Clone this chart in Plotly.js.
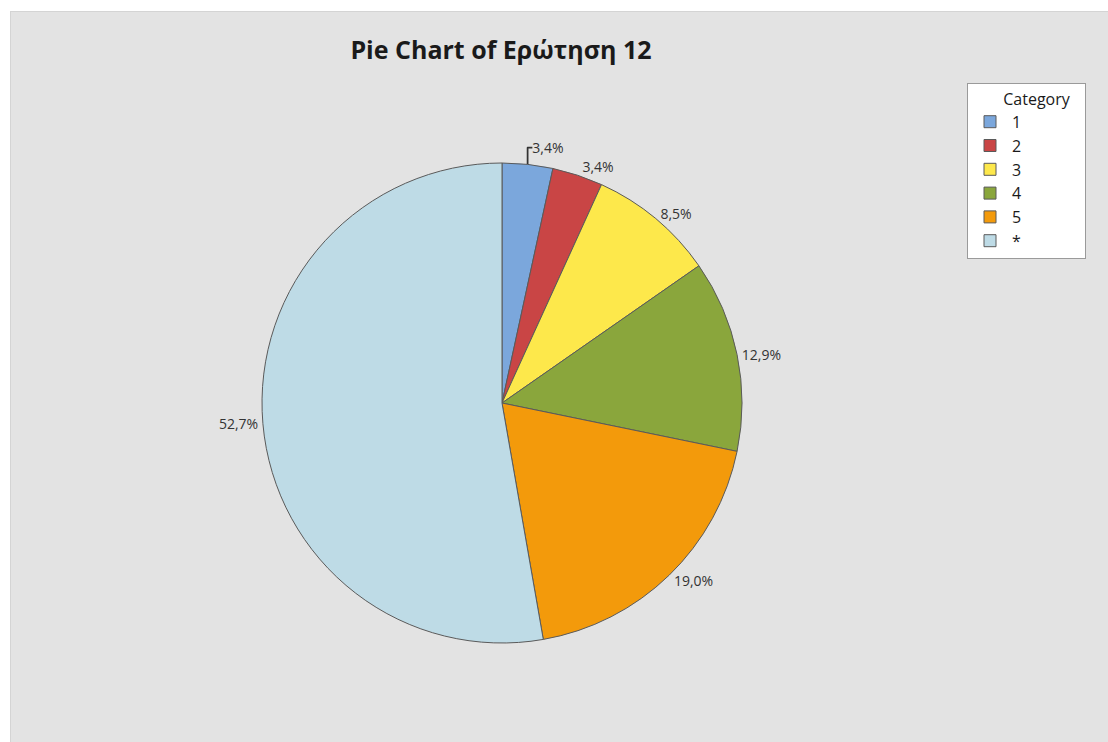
<!DOCTYPE html>
<html>
<head>
<meta charset="utf-8">
<script src="https://cdn.plot.ly/plotly-3.0.1.min.js"></script>
<style>
  html, body { margin: 0; padding: 0; background: #ffffff; }
  #chart { position: absolute; left: 10px; top: 11px; width: 1098px; height: 731px;
           border-top: 1px solid #d4d4d4; border-left: 1px solid #d4d4d4; box-sizing: border-box; }
</style>
</head>
<body>
<div id="chart"></div>
<script>
const categories = ["1", "2", "3", "4", "5", "*"];
const values = [3.4, 3.4, 8.5, 12.9, 19.0, 52.7];
const percentLabels = ["3,4%", "3,4%", "8,5%", "12,9%", "19,0%", "52,7%"];
const sliceColors = ["#7BA7DC", "#C94545", "#FDE84B", "#8AA63C", "#F39A0B", "#BEDBE6"];

const W = 1098, H = 731;
const cx = 491, cy = 391, r = 240;
const FONT = "Open Sans, Noto Sans, sans-serif";

const trace = {
  type: "pie",
  labels: categories,
  values: values,
  text: percentLabels,
  textinfo: "text",
  textposition: "outside",
  sort: false,
  direction: "clockwise",
  rotation: 0,
  hoverinfo: "label+text",
  marker: { colors: sliceColors, line: { color: "#5a5a5a", width: 1 } },
  outsidetextfont: { family: FONT, size: 14, color: "#333333" },
  domain: {
    x: [(cx - r) / W, (cx + r) / W],
    y: [(H - (cy + r)) / H, (H - (cy - r)) / H]
  }
};

const layout = {
  width: W, height: H,
  paper_bgcolor: "#E3E3E3",
  margin: { l: 0, r: 0, t: 0, b: 0 },
  title: {
    text: "<b>Pie Chart of Ερώτηση 12</b>",
    font: { family: FONT, size: 25, color: "#1a1a1a" },
    x: 490 / W, xanchor: "center", xref: "paper",
    y: 1 - 38 / H, yanchor: "middle", yref: "container"
  },
  showlegend: true,
  legend: {
    title: { text: "        Category   ", font: { family: FONT, size: 16, color: "#1a1a1a" } },
    font: { family: FONT, size: 16, color: "#1a1a1a" },
    bgcolor: "#ffffff",
    bordercolor: "#9a9a9a",
    borderwidth: 1,
    itemwidth: 34,
    x: 956 / W, xanchor: "left",
    y: (H - 71) / H, yanchor: "top",
    traceorder: "normal"
  }
};

Plotly.newPlot("chart", [trace], layout, { displayModeBar: false, staticPlot: true });
</script>
</body>
</html>
